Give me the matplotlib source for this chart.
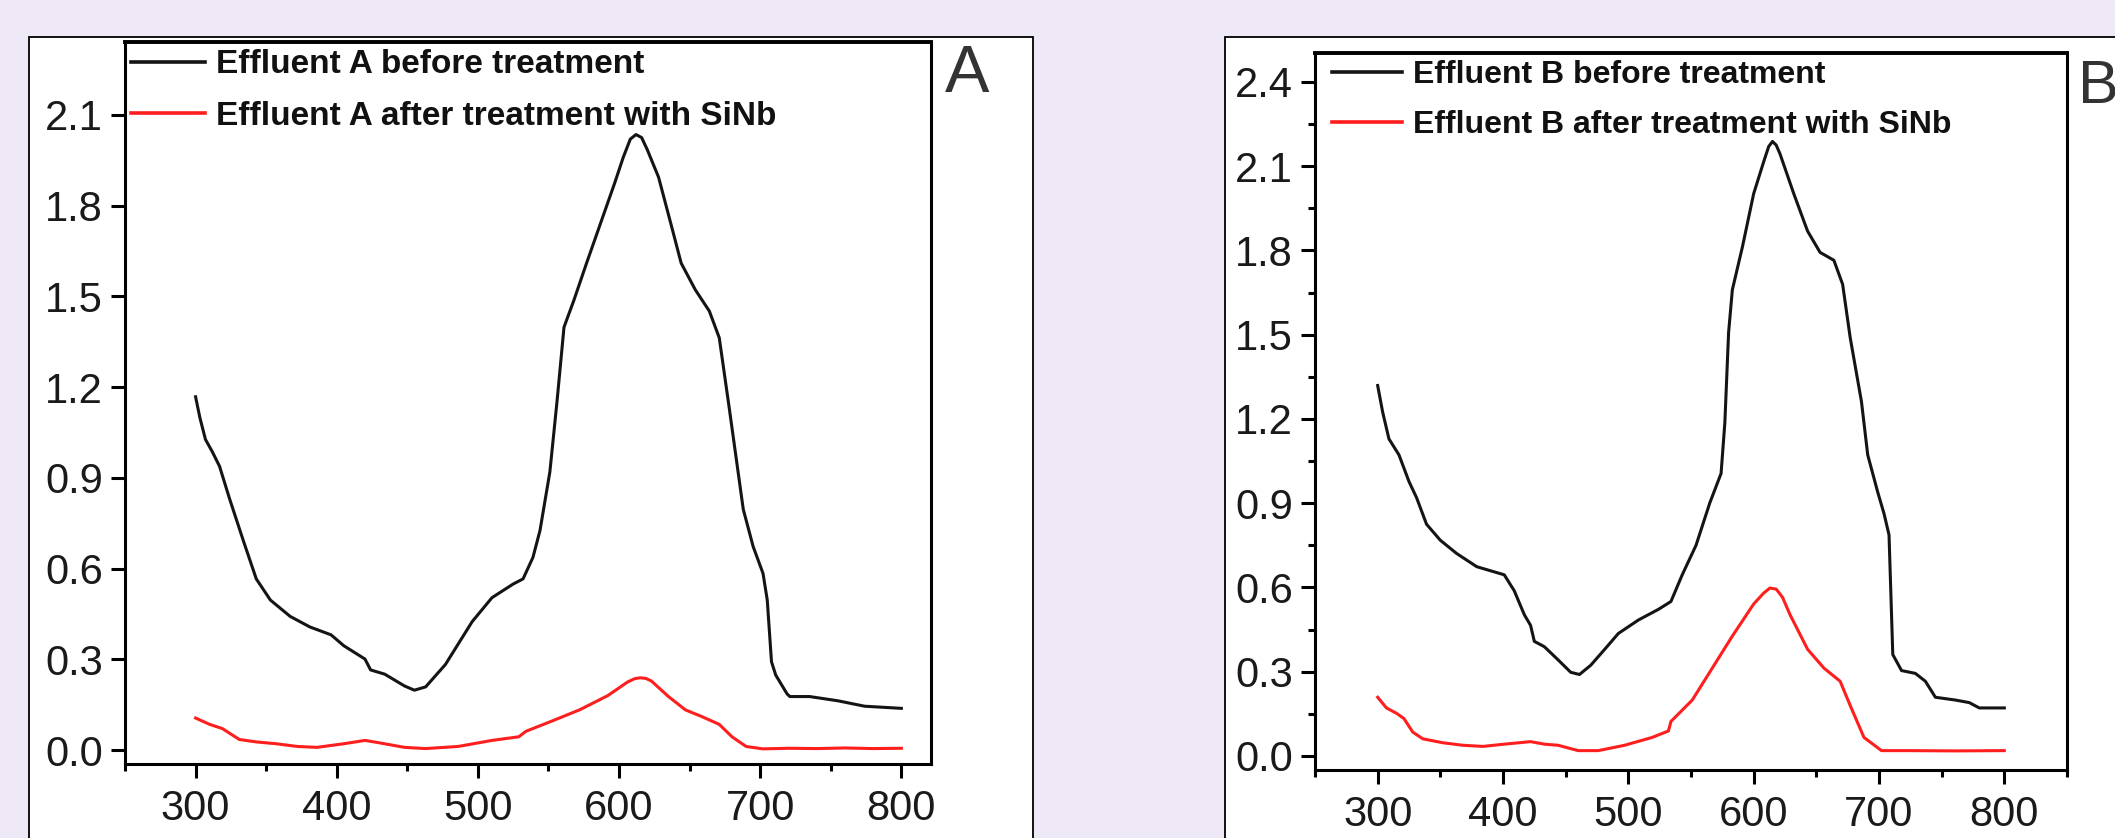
import matplotlib
matplotlib.use("Agg")
import matplotlib.pyplot as plt
from matplotlib.patches import Rectangle
from matplotlib.ticker import MultipleLocator

# ---------------- data ----------------
a_before_x = [300, 303, 307, 312, 317, 324, 334, 343, 353, 367, 381, 396, 405, 420, 424, 434, 448,
              455, 463, 477, 496, 510, 525, 532, 539, 544, 551, 556, 561, 568, 577, 587, 597,
              603, 608, 612, 616, 620, 628, 637, 644, 654, 664, 671, 678, 688, 695, 702, 705,
              708, 711, 719, 721, 735, 755, 774, 800]
a_before_y = [1.168, 1.100, 1.027, 0.985, 0.938, 0.832, 0.690, 0.566, 0.496, 0.442, 0.407, 0.381,
              0.345, 0.301, 0.265, 0.251, 0.212, 0.198, 0.209, 0.283, 0.425, 0.504, 0.549, 0.566,
              0.637, 0.726, 0.920, 1.150, 1.398, 1.487, 1.610, 1.743, 1.876, 1.960, 2.020, 2.035,
              2.025, 1.985, 1.894, 1.735, 1.610, 1.522, 1.451, 1.363, 1.133, 0.796, 0.673, 0.584,
              0.496, 0.292, 0.248, 0.186, 0.177, 0.177, 0.163, 0.145, 0.138]

a_after_x = [300, 310, 319, 331, 343, 357, 372, 386, 405, 420, 429, 448, 463, 486, 510, 529,
             534, 553, 572, 592, 606, 611, 615, 619, 623, 635, 647, 659, 671, 680, 690, 702, 720,
             740, 760, 780, 800]
a_after_y = [0.106, 0.085, 0.071, 0.035, 0.027, 0.021, 0.012, 0.009, 0.021, 0.032, 0.025, 0.009,
             0.005, 0.012, 0.032, 0.044, 0.062, 0.097, 0.133, 0.180, 0.225, 0.236, 0.239, 0.237,
             0.228, 0.177, 0.133, 0.110, 0.085, 0.044, 0.012, 0.004, 0.006, 0.005, 0.007, 0.005,
             0.006]

b_before_x = [300, 304, 309, 317, 325, 331, 339, 350, 363, 379, 401, 409, 417, 422, 425, 433,
              444, 454, 461, 470, 481, 492, 508, 524, 534, 543, 554, 565, 574, 577, 580, 583,
              591, 600, 608, 612, 615, 618, 621, 632, 643, 653, 664, 671, 677, 686, 691, 699,
              704, 708, 711, 718, 729, 737, 745, 761, 772, 780, 800]
b_before_y = [1.319, 1.224, 1.129, 1.072, 0.977, 0.920, 0.825, 0.768, 0.721, 0.674, 0.645, 0.588,
              0.503, 0.465, 0.408, 0.389, 0.342, 0.298, 0.290, 0.323, 0.379, 0.436, 0.484, 0.522,
              0.550, 0.645, 0.750, 0.901, 1.006, 1.186, 1.508, 1.660, 1.812, 2.002, 2.116, 2.170,
              2.188, 2.175, 2.144, 2.002, 1.869, 1.793, 1.765, 1.679, 1.490, 1.262, 1.072, 0.939,
              0.863, 0.787, 0.361, 0.304, 0.294, 0.266, 0.209, 0.199, 0.190, 0.171, 0.171]

b_after_x = [300, 307, 315, 321, 328, 336, 352, 368, 384, 401, 422, 433, 444, 460, 476, 497,
             519, 532, 534, 551, 567, 583, 600, 608, 613, 618, 623, 629, 643, 656, 669, 677,
             688, 702, 723, 760, 800]
b_after_y = [0.209, 0.171, 0.152, 0.133, 0.085, 0.061, 0.047, 0.038, 0.034, 0.042, 0.051, 0.042,
             0.038, 0.019, 0.019, 0.038, 0.066, 0.089, 0.123, 0.199, 0.313, 0.427, 0.541, 0.580,
             0.598, 0.594, 0.565, 0.503, 0.380, 0.313, 0.266, 0.180, 0.066, 0.019, 0.019, 0.018,
             0.019]

x_ticks = [300, 400, 500, 600, 700, 800]
a_yticks = [0.0, 0.3, 0.6, 0.9, 1.2, 1.5, 1.8, 2.1]
b_yticks = [0.0, 0.3, 0.6, 0.9, 1.2, 1.5, 1.8, 2.1, 2.4]

labels_a = ["Effluent A before treatment", "Effluent A after treatment with SiNb"]
labels_b = ["Effluent B before treatment", "Effluent B after treatment with SiNb"]

# ---------------- figure ----------------
W, H = 2115, 838
fig = plt.figure(figsize=(W / 100, H / 100), dpi=100)
fig.patch.set_facecolor("#EFE8F6")

def fx(px):
    return px / W

def fy(py):
    return 1 - py / H

# white panels
fig.patches.append(Rectangle((fx(29), -0.1), fx(1033) - fx(29), fy(37) + 0.1,
                             transform=fig.transFigure, facecolor="white",
                             edgecolor="black", lw=1.3, zorder=-5))
fig.patches.append(Rectangle((fx(1225), -0.1), 0.5, fy(37) + 0.1,
                             transform=fig.transFigure, facecolor="white",
                             edgecolor="black", lw=1.3, zorder=-5))

tick_font = ["Liberation Sans Narrow", "Liberation Sans", "DejaVu Sans"]
leg_font = ["Liberation Sans", "DejaVu Sans"]

BLACK = "#141414"
RED = "#FF1E1E"
LW = 2.2

def setup(ax, xlim, ylim, yticks, yminor, legend_labels, lines, legfs, anchor):
    ax.set_zorder(2)
    ax.set_xlim(*xlim)
    ax.set_ylim(*ylim)
    ax.set_xticks(x_ticks)
    ax.xaxis.set_minor_locator(MultipleLocator(50))
    ax.set_yticks(yticks)
    ax.set_yticklabels([f"{v:.1f}" for v in yticks])
    if yminor:
        ax.yaxis.set_minor_locator(MultipleLocator(0.15))
    else:
        ax.yaxis.set_minor_locator(plt.NullLocator())
    for s in ax.spines.values():
        s.set_linewidth(2.2)
        s.set_color("black")
    ax.spines["top"].set_linewidth(2.8)
    ax.tick_params(which="major", direction="out", length=10, width=2.2, color="black")
    ax.tick_params(which="minor", direction="out", length=5, width=2.2, color="black")
    ax.tick_params(axis="x", which="major", pad=8)
    ax.tick_params(axis="y", which="major", pad=6)
    for lab in ax.get_xticklabels() + ax.get_yticklabels():
        lab.set_fontfamily(tick_font)
        lab.set_fontsize(30)
        lab.set_color("#1a1a1a")
    ax.set_facecolor("white")
    leg = ax.legend(lines, legend_labels, loc="upper left", bbox_to_anchor=anchor,
                    frameon=False, prop={"family": leg_font, "weight": "bold", "size": legfs},
                    handlelength=2.2, handletextpad=0.35, labelspacing=0.62,
                    borderpad=0, borderaxespad=0)
    for t in leg.get_texts():
        t.set_color("#111111")
    for h in leg.get_lines():
        h.set_linewidth(2.6)
    return leg

# panel A
axA = fig.add_axes([fx(125), fy(764), fx(931) - fx(125), fy(42) - fy(764)])
l1, = axA.plot(a_before_x, a_before_y, color=BLACK, lw=LW, solid_joinstyle="round")
l2, = axA.plot(a_after_x, a_after_y, color=RED, lw=LW, solid_joinstyle="round")
setup(axA, (250, 821), (-0.046, 2.341), a_yticks, False, labels_a, [l1, l2], 24, (0.008, 0.99))

# panel B
axB = fig.add_axes([fx(1315), fy(770), fx(2067) - fx(1315), fy(53) - fy(770)])
m1, = axB.plot(b_before_x, b_before_y, color=BLACK, lw=LW, solid_joinstyle="round")
m2, = axB.plot(b_after_x, b_after_y, color=RED, lw=LW, solid_joinstyle="round")
setup(axB, (250, 850), (-0.05, 2.503), b_yticks, True, labels_b, [m1, m2], 23, (0.022, 0.99))

# panel letters
fig.text(fx(945), fy(92), "A", fontsize=48, fontfamily=["Liberation Sans", "DejaVu Sans"],
         color="#333333", ha="left", va="baseline", zorder=3)
fig.text(fx(2078), fy(103), "B", fontsize=44, fontfamily=["Liberation Sans", "DejaVu Sans"],
         color="#333333", ha="left", va="baseline", zorder=3)

fig.savefig("out.png", dpi=100, facecolor=fig.get_facecolor())
